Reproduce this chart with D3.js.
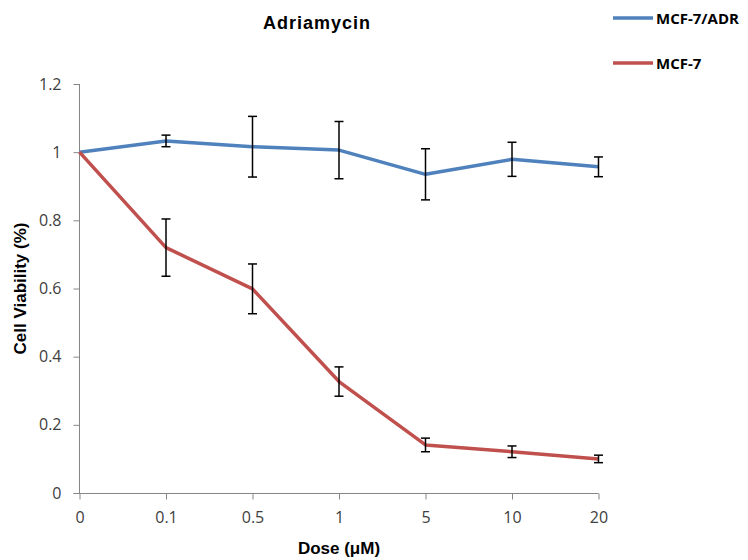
<!DOCTYPE html>
<html>
<head>
<meta charset="UTF-8">
<title>Adriamycin</title>
<script src="https://cdn.jsdelivr.net/npm/d3@7"></script>
<style>
    body, html { margin: 0; padding: 0; background: #fff; }
    .tick text { font-family: "Open Sans", sans-serif; font-size: 16px; fill: #404040; }
    .bold { font-family: "Liberation Sans", Arial, sans-serif; font-weight: bold; fill: #000; }
</style>
</head>
<body>
<svg id="chart" width="748" height="560"></svg>
<script>
    var doses = ["0", "0.1", "0.5", "1", "5", "10", "20"];
    var adrValues = [1.0, 1.033, 1.016, 1.006, 0.935, 0.979, 0.957];
    var adrErrors = [0, 0.017, 0.089, 0.084, 0.075, 0.05, 0.029];
    var mcfValues = [1.0, 0.72, 0.599, 0.327, 0.141, 0.121, 0.1];
    var mcfErrors = [0, 0.084, 0.073, 0.043, 0.02, 0.017, 0.011];
    var yTicks = [0, 0.2, 0.4, 0.6, 0.8, 1, 1.2];

    var series = [
        { name: "MCF-7/ADR", color: "#4f81bd", values: adrValues, errors: adrErrors },
        { name: "MCF-7", color: "#c0504d", values: mcfValues, errors: mcfErrors }
    ];

    var svg = d3.select("#chart");

    var x = d3.scalePoint().domain(doses).range([79.5, 598.5]);
    var y = d3.scaleLinear().domain([0, 1.2]).range([493, 84]);

    // y axis
    var yAxis = svg.append("g")
        .attr("transform", "translate(79.5,0)")
        .call(d3.axisLeft(y).tickValues(yTicks).tickSize(6).tickPadding(12)
            .tickFormat(function (d) { return d3.format("")(d); }));
    yAxis.selectAll("line, path").attr("stroke", "#868686");
    yAxis.select(".domain").attr("d", "M0," + y(1.2) + "V" + y(0));

    // x axis
    var xAxis = svg.append("g")
        .attr("transform", "translate(0,493.5)")
        .call(d3.axisBottom(x).tickSize(6).tickPadding(10));
    xAxis.selectAll("line, path").attr("stroke", "#868686");
    xAxis.select(".domain").attr("d", "M" + (x("0") - 6) + ",0H" + x("20"));
    xAxis.selectAll("text").attr("dy", "0.85em");

    var line = d3.line()
        .x(function (d, i) { return x(doses[i]); })
        .y(function (d) { return y(d); });

    series.forEach(function (s) {
        svg.append("path")
            .datum(s.values)
            .attr("d", line)
            .attr("fill", "none")
            .attr("stroke", s.color)
            .attr("stroke-width", 3.5)
            .attr("stroke-linejoin", "round");
    });

    // error bars
    series.forEach(function (s) {
        var g = svg.append("g");
        s.values.forEach(function (v, i) {
            var e = s.errors[i];
            if (!e) return;
            var cx = x(doses[i]);
            g.append("line")
                .attr("x1", cx).attr("x2", cx)
                .attr("y1", y(v + e)).attr("y2", y(v - e))
                .attr("stroke", "#000").attr("stroke-width", 1.5);
            [v + e, v - e].forEach(function (t) {
                g.append("line")
                    .attr("x1", cx - 4.5).attr("x2", cx + 4.5)
                    .attr("y1", y(t)).attr("y2", y(t))
                    .attr("stroke", "#000").attr("stroke-width", 1.5);
            });
        });
    });

    // titles
    svg.append("text")
        .attr("class", "bold")
        .attr("x", 317).attr("y", 29)
        .attr("text-anchor", "middle")
        .attr("font-size", "18px")
        .attr("letter-spacing", "1px")
        .text("Adriamycin");

    svg.append("text")
        .attr("class", "bold")
        .attr("x", (x("0") + x("20")) / 2).attr("y", 554)
        .attr("text-anchor", "middle")
        .attr("font-size", "17px")
        .text("Dose (\u03bcM)");

    svg.append("text")
        .attr("class", "bold")
        .attr("transform", "translate(26," + ((y(0) + y(1.2)) / 2) + ") rotate(-90)")
        .attr("text-anchor", "middle")
        .attr("font-size", "17px")
        .text("Cell Viability (%)");

    // legend
    var legend = svg.append("g");
    series.forEach(function (s, i) {
        var ly = 18 + i * 45;
        legend.append("line")
            .attr("x1", 613).attr("x2", 653)
            .attr("y1", ly).attr("y2", ly)
            .attr("stroke", s.color).attr("stroke-width", 3.5);
        legend.append("text")
            .attr("x", 656).attr("y", ly + 5.5)
            .attr("font-family", "'Open Sans', sans-serif")
            .attr("font-weight", "bold")
            .attr("font-size", "15px")
            .attr("fill", "#000")
            .text(s.name);
    });
</script>
</body>
</html>
